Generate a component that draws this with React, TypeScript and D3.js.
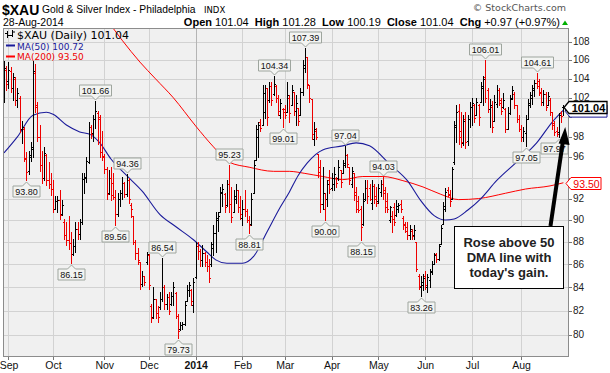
import React from "react";
import * as d3 from "d3";

// $XAU daily bars, 29-Aug-2013 .. 28-Aug-2014
const opens = [
  102.5, 105.0, 103.8, 104.8, 103.0, 104.0, 101.8, 102.0, 98.8, 98.8,
  95.8, 94.6, 96.0, 96.8, 104.6, 101.0, 98.0, 95.2, 94.0, 96.2,
  93.8, 93.4, 92.9, 91.0, 91.8, 91.9, 90.6, 89.8, 88.6, 88.2,
  87.9, 86.9, 87.6, 89.2, 88.7, 89.8, 93.9, 94.0, 95.5, 99.0,
  98.4, 99.8, 100.4, 99.8, 96.5, 96.0, 94.8, 92.5, 94.0, 93.5,
  92.1, 90.6, 92.0, 92.5, 93.5, 92.4, 93.8, 91.4, 90.4, 88.0,
  87.0, 86.2, 84.3, 85.0, 86.2, 86.8, 82.4, 81.5, 83.0, 81.8,
  82.3, 83.0, 84.0, 82.6, 83.2, 82.6, 83.3, 83.5, 81.6, 80.5,
  80.8, 80.9, 82.8, 83.8, 83.8, 82.5, 84.9, 87.6, 87.2, 86.4,
  87.0, 86.2, 85.9, 86.0, 87.5, 88.8, 90.0, 90.7, 92.5, 92.4,
  91.4, 93.4, 91.5, 90.7, 92.0, 92.8, 91.2, 90.2, 91.0, 90.8,
  90.0, 89.6, 92.5, 95.7, 98.0, 99.5, 99.2, 100.5, 103.0, 101.8,
  103.2, 102.4, 103.2, 102.0, 100.2, 100.8, 100.8, 100.5, 102.0, 101.2,
  102.6, 100.6, 100.9, 100.2, 102.6, 105.2, 106.3, 103.3, 101.9, 97.8,
  98.6, 96.3, 95.0, 91.5, 91.0, 92.0, 93.8, 93.0, 93.4, 94.0,
  94.0, 94.7, 94.4, 95.2, 96.2, 95.0, 93.4, 94.4, 92.6, 91.8,
  91.0, 89.6, 92.0, 93.0, 93.0, 91.6, 93.2, 92.2, 91.8, 92.6,
  93.4, 92.8, 91.8, 90.0, 90.4, 91.2, 90.5, 91.0, 91.5, 90.2,
  89.6, 89.4, 88.6, 89.0, 88.6, 88.0, 85.0, 84.0, 84.2, 85.0,
  84.0, 84.6, 85.4, 86.0, 86.9, 86.5, 87.8, 89.6, 91.0, 92.8,
  92.3, 92.0, 95.5, 99.0, 100.6, 98.6, 97.4, 99.8, 97.6, 99.8,
  101.0, 101.2, 100.2, 101.2, 101.6, 103.0, 104.2, 102.8, 100.8, 101.0,
  99.6, 101.4, 102.8, 101.8, 101.0, 100.8, 98.8, 100.4, 102.0, 102.4,
  101.2, 99.8, 98.8, 98.0, 98.4, 99.8, 101.2, 102.0, 102.8, 103.6,
  103.8, 102.6, 101.6, 102.4, 101.2, 101.8, 100.5, 99.4, 98.6, 98.5,
  100.4, 101.04,
];
const highs = [
  105.9, 105.4, 105.8, 105.3, 104.6, 104.2, 103.0, 102.2, 99.6, 99.0,
  96.5, 96.6, 97.5, 105.9, 105.6, 101.6, 99.2, 96.6, 97.0, 96.3,
  95.5, 94.4, 93.8, 92.2, 92.2, 92.8, 91.9, 90.1, 89.8, 90.4,
  88.9, 88.3, 89.8, 89.8, 90.1, 94.4, 94.4, 96.0, 99.5, 99.2,
  100.2, 101.66, 100.6, 100.2, 98.6, 96.3, 95.0, 94.7, 95.0, 94.4,
  92.8, 92.5, 92.8, 94.1, 93.6, 94.36, 94.0, 91.6, 90.4, 88.2,
  87.5, 86.2, 85.4, 85.0, 87.1, 86.9, 82.6, 84.0, 83.0, 82.4,
  83.6, 86.54, 84.2, 83.4, 83.6, 83.6, 84.5, 83.6, 81.7, 81.1,
  81.1, 82.8, 84.2, 84.5, 83.9, 84.8, 88.0, 88.0, 87.4, 87.7,
  87.1, 86.8, 86.5, 88.0, 89.5, 90.7, 90.7, 93.1, 93.4, 92.5,
  93.8, 95.23, 93.1, 92.8, 93.4, 92.8, 92.2, 91.9, 92.8, 91.0,
  90.4, 92.5, 95.7, 99.2, 99.5, 99.8, 103.3, 103.3, 103.0, 103.7,
  103.7, 104.34, 103.3, 102.3, 101.9, 100.9, 101.2, 103.7, 102.3, 103.3,
  102.6, 102.3, 100.9, 103.0, 106.0, 107.39, 106.3, 103.3, 101.9, 99.5,
  98.9, 96.3, 95.7, 95.0, 92.5, 93.8, 94.7, 94.4, 95.0, 94.1,
  95.7, 94.7, 95.7, 97.04, 96.3, 95.0, 95.0, 94.4, 93.1, 92.2,
  91.3, 92.5, 93.8, 93.8, 93.4, 93.8, 93.4, 93.1, 93.4, 93.8,
  94.03, 93.1, 92.5, 91.3, 90.8, 91.6, 91.9, 91.6, 91.9, 90.4,
  89.8, 89.8, 89.5, 89.2, 89.5, 88.0, 85.2, 85.0, 85.2, 85.4,
  85.2, 85.6, 86.3, 87.0, 87.0, 87.8, 89.5, 91.7, 93.0, 93.1,
  92.8, 95.0, 99.6, 101.2, 101.4, 100.5, 100.2, 100.5, 100.2, 101.6,
  102.0, 101.4, 102.0, 101.4, 103.7, 104.3, 106.01, 103.0, 101.9, 101.7,
  102.3, 103.3, 103.0, 102.0, 102.5, 100.9, 101.0, 102.3, 103.2, 102.6,
  101.2, 100.2, 99.2, 99.0, 100.2, 101.9, 102.6, 103.3, 103.9, 104.61,
  104.0, 103.0, 102.8, 102.6, 102.6, 102.0, 100.5, 99.6, 99.0, 100.4,
  100.6, 101.28,
];
const lows = [
  101.6, 102.8, 103.0, 102.6, 101.8, 101.3, 101.0, 98.5, 97.4, 95.6,
  93.8, 94.3, 95.6, 96.0, 100.5, 97.6, 94.6, 93.5, 93.8, 93.3,
  93.0, 92.3, 90.7, 91.0, 90.7, 90.1, 90.5, 88.3, 87.7, 87.4,
  86.15, 86.8, 87.1, 88.3, 88.3, 89.6, 92.5, 93.6, 95.4, 97.9,
  97.6, 98.9, 97.3, 96.0, 95.7, 94.4, 92.0, 92.4, 91.9, 92.0,
  89.56, 90.4, 91.3, 92.0, 92.1, 92.2, 91.6, 90.3, 87.8, 86.5,
  86.0, 83.9, 84.1, 84.2, 86.0, 83.9, 81.1, 81.4, 81.4, 81.1,
  82.2, 82.8, 82.2, 82.2, 81.7, 82.5, 82.5, 81.4, 79.73, 80.4,
  80.5, 80.8, 82.8, 83.3, 82.5, 81.9, 84.8, 86.5, 85.9, 85.9,
  85.9, 85.4, 84.5, 85.9, 86.8, 87.1, 89.0, 90.7, 91.3, 90.7,
  91.3, 90.7, 89.8, 90.7, 91.6, 90.7, 90.1, 89.5, 90.4, 89.8,
  88.81, 89.5, 92.5, 95.7, 96.0, 98.6, 99.2, 99.9, 99.2, 101.6,
  101.2, 102.3, 101.6, 100.2, 99.9, 99.01, 99.9, 100.5, 99.5, 101.2,
  100.2, 99.2, 99.2, 100.2, 102.3, 104.7, 103.0, 101.6, 97.8, 97.2,
  97.8, 94.1, 90.7, 91.0, 90.0, 91.3, 92.5, 92.8, 92.8, 93.1,
  93.8, 93.1, 94.4, 95.0, 95.0, 93.4, 93.1, 91.9, 90.7, 90.7,
  88.15, 89.5, 91.9, 91.6, 91.9, 91.0, 91.6, 91.3, 91.6, 92.2,
  92.0, 90.7, 90.7, 89.8, 88.9, 89.5, 90.4, 90.7, 90.7, 89.2,
  88.9, 88.3, 88.3, 88.3, 88.3, 85.4, 83.9, 83.26, 83.8, 83.9,
  83.6, 84.0, 85.2, 86.0, 86.2, 86.4, 87.8, 89.6, 90.8, 92.2,
  91.3, 92.0, 95.3, 97.5, 97.3, 97.0, 97.2, 96.9, 97.2, 99.0,
  99.2, 99.5, 100.2, 99.2, 101.6, 101.3, 101.6, 100.5, 99.0, 98.5,
  99.6, 101.0, 101.2, 100.3, 100.9, 98.5, 98.8, 100.3, 101.9, 100.9,
  99.5, 98.6, 97.6, 97.6, 97.05, 99.8, 101.0, 101.4, 102.2, 103.0,
  102.3, 101.3, 101.2, 100.7, 101.2, 100.2, 98.8, 98.2, 98.1, 97.97,
  99.5, 100.19,
];
const closes = [
  105.2, 103.5, 105.0, 103.0, 104.2, 101.8, 102.5, 98.8, 99.0, 95.9,
  94.5, 96.2, 97.0, 104.8, 101.2, 98.0, 95.2, 94.0, 96.4, 93.8,
  93.4, 92.9, 91.0, 91.8, 91.9, 90.5, 91.4, 88.6, 88.2, 87.9,
  86.9, 87.6, 89.2, 88.7, 89.8, 93.9, 94.1, 95.6, 99.0, 98.3,
  99.8, 100.6, 100.0, 96.5, 96.1, 94.8, 92.4, 94.0, 92.3, 92.1,
  90.6, 92.0, 92.5, 93.5, 92.4, 93.8, 92.0, 91.0, 88.0, 87.0,
  86.4, 84.3, 85.0, 84.5, 86.9, 84.2, 81.4, 83.0, 81.8, 81.5,
  83.0, 84.0, 82.6, 83.2, 82.0, 83.3, 84.0, 81.6, 80.3, 80.8,
  80.9, 82.5, 83.8, 84.2, 82.8, 84.5, 87.6, 87.2, 86.4, 87.0,
  86.2, 85.9, 84.8, 87.8, 88.8, 90.2, 90.4, 92.6, 92.9, 91.2,
  93.4, 91.5, 90.3, 92.2, 92.8, 91.2, 90.6, 91.0, 90.8, 90.0,
  89.5, 92.0, 95.2, 98.8, 99.2, 98.9, 102.5, 103.0, 100.0, 103.2,
  101.8, 103.5, 102.0, 100.6, 101.5, 100.5, 100.2, 102.3, 100.4, 102.8,
  100.6, 101.5, 99.6, 102.6, 105.5, 106.3, 103.4, 102.0, 98.3, 98.8,
  98.0, 94.5, 91.5, 92.5, 92.0, 93.4, 92.9, 94.0, 94.3, 93.5,
  95.0, 93.6, 95.4, 96.2, 95.3, 93.8, 94.6, 92.3, 91.0, 90.9,
  89.4, 91.8, 93.0, 92.2, 92.0, 93.2, 92.0, 91.6, 93.0, 93.4,
  92.5, 91.2, 91.0, 91.2, 90.1, 89.8, 91.3, 91.4, 91.0, 89.5,
  89.0, 88.6, 89.2, 88.5, 89.1, 85.6, 84.1, 84.5, 84.8, 84.2,
  84.9, 85.3, 86.0, 86.8, 86.5, 87.6, 89.3, 91.3, 92.6, 92.4,
  91.8, 94.8, 99.2, 100.5, 98.0, 97.5, 99.6, 97.5, 99.8, 101.0,
  101.5, 99.9, 101.6, 100.0, 103.2, 104.0, 102.0, 100.8, 101.2, 99.0,
  101.6, 102.8, 101.5, 100.6, 101.8, 98.8, 100.4, 101.9, 102.8, 101.2,
  99.8, 98.8, 98.0, 98.6, 99.8, 101.5, 102.3, 103.0, 103.6, 103.2,
  102.5, 101.6, 102.4, 101.0, 102.2, 100.5, 99.2, 98.5, 98.3, 100.2,
  100.07, 101.04,
];

// moving averages, sampled at bar index
const ma50At = [0, 6, 13, 19, 22, 28, 34, 39, 43, 48, 55, 62, 70, 77, 85, 91, 95, 100, 107, 112, 118, 124, 128, 132, 136, 143, 152, 158, 164, 173, 181, 187, 193, 198, 202, 208, 214, 221, 230, 239, 246, 251];
const ma50 = [96.4, 98.0, 100.2, 100.5, 100.3, 99.2, 98.5, 98.2, 97.4, 95.8, 94.2, 92.7, 90.5, 89.4, 88.2, 87.1, 86.4, 86.1, 86.1, 86.7, 88.9, 91.2, 92.6, 94.2, 95.4, 96.7, 97.1, 97.4, 97.1, 95.3, 93.7, 91.8, 90.4, 90.0, 90.1, 90.9, 92.0, 93.7, 95.5, 97.4, 99.5, 100.72];
const ma200At = [45, 53, 61, 68, 76, 86, 94, 101, 110, 121, 128, 135, 143, 152, 161, 170, 179, 188, 196, 204, 213, 225, 234, 245, 251];
const ma200 = [110.9, 108.2, 105.8, 104.0, 102.0, 99.1, 97.0, 95.5, 95.0, 94.6, 94.6, 94.4, 94.1, 93.8, 94.1, 94.1, 93.7, 93.1, 92.4, 91.9, 92.0, 92.5, 92.9, 93.2, 93.5];

const holidays = ["2013-09-02", "2013-11-28", "2013-12-25", "2014-01-01", "2014-01-20", "2014-02-17", "2014-04-18", "2014-05-26", "2014-07-04"];
const yTicks = [80, 82, 84, 86, 88, 90, 92, 94, 96, 98, 100, 102, 104, 106, 108];

// bars that carry a price callout
const peakIdx = [41, 55, 71, 101, 121, 135, 153, 170, 216, 239];
const troughIdx = [10, 30, 50, 78, 110, 125, 144, 160, 187, 234, 249];

const L = 3, R = 569, T = 28, B = 357;
const font = "'Liberation Sans', Arial, sans-serif";
const verdana = "'DejaVu Sans', Verdana, sans-serif";

function Callout({ cx, tip, text, above }) {
  const w = text.replace(".", "").length * 5 + 7;
  let bx = cx - w / 2;
  if (bx + w > R - 1) bx = R - 1 - w;
  const h = 11;
  const top = above ? tip - 4 - h : tip + 4;
  const bot = top + h;
  const d = above
    ? `M${bx},${top}H${bx + w}V${bot}H${cx + 4}L${cx},${tip}L${cx - 4},${bot}H${bx}Z`
    : `M${bx},${top}H${cx - 4}L${cx},${tip}L${cx + 4},${top}H${bx + w}V${bot}H${bx}Z`;
  return (
    <g>
      <path d={d} fill="#f3f4f2" stroke="#9ea59e" strokeWidth={1} />
      <text x={bx + w / 2} y={top + 8.5} textAnchor="middle" fontSize={9} fontFamily={font} fill="#111">
        {text}
      </text>
    </g>
  );
}

function PriceTag({ y, text, stroke, color, bold, x0, x1 }) {
  const d = `M${x0},${y}L${x0 + 5},${y - 6}H${x1}V${y + 6}H${x0 + 5}Z`;
  return (
    <g>
      <path d={d} fill="#fff" stroke={stroke} strokeWidth={bold ? 1.3 : 1} />
      {text ? (
        <text x={(x0 + 5 + x1) / 2 + 0.5} y={y + 4} textAnchor="middle" fontSize={bold ? 11 : 10.5}
          fontWeight={bold ? "bold" : "normal"} fontFamily={font} fill={color}>
          {text}
        </text>
      ) : null}
    </g>
  );
}

export default function App() {
  const hol = new Set(holidays);
  const fmt = d3.timeFormat("%Y-%m-%d");
  const dates = d3.timeDay
    .range(new Date(2013, 7, 29), new Date(2014, 7, 29))
    .filter((d) => d.getDay() % 6 !== 0 && !hol.has(fmt(d)));

  const x = d3.scaleLinear().domain([0, closes.length - 1]).range([4, 563.4]);
  const y = d3.scaleLog().domain([80, 108]).range([335, 42]);

  const months = dates
    .map((d, i) => ({ d, i }))
    .filter(({ d, i }) => i > 0 && d.getMonth() !== dates[i - 1].getMonth());

  const line = d3
    .line<[number, number]>()
    .x((d) => x(d[0]))
    .y((d) => y(d[1]))
    .curve(d3.curveMonotoneX);
  const ma50Path = line(ma50At.map((a, k) => [a, ma50[k]]));
  const ma200Path = line(ma200At.map((a, k) => [a, ma200[k]]));

  const last = closes.length - 1;
  const lastMa50 = ma50[ma50.length - 1];
  const lastMa200 = ma200[ma200.length - 1];
  // tick labels that sit under the right-hand price tags are hidden, as in the original
  const tagYs = [y(closes[last]), y(lastMa50), y(lastMa200)];
  const shownTicks = yTicks.filter((t) => tagYs.every((ty) => Math.abs(y(t) - ty) > 8));

  return (
    <svg width={610} height={373} style={{ position: "absolute", left: 0, top: 0, background: "#fff" }}>
      <defs>
        <clipPath id="plotclip">
          <rect x={L} y={T} width={R - L} height={B - T} />
        </clipPath>
      </defs>

      {/* header */}
      <text x={2} y={14.5} fontSize={14} fontWeight="bold" fontFamily={font}>$XAU</text>
      <text x={42} y={12.5} fontSize={10.3} fontFamily={font}>Gold &amp; Silver Index - Philadelphia</text>
      <text x={204} y={12.5} fontSize={8.5} fontFamily={verdana}>INDX</text>
      <text x={566} y={11} textAnchor="end" fontSize={9.5} fontFamily={verdana} fill="#555">© StockCharts.com</text>
      <text x={3} y={26} fontSize={10.5} fontFamily={font}>28-Aug-2014</text>
      <text x={560} y={26} textAnchor="end" fontSize={11} fontFamily={font} style={{ whiteSpace: "pre" }}>
        <tspan fontWeight="bold">Open</tspan>
        <tspan>{" 101.04  "}</tspan>
        <tspan fontWeight="bold">High</tspan>
        <tspan>{" 101.28  "}</tspan>
        <tspan fontWeight="bold">Low</tspan>
        <tspan>{" 100.19  "}</tspan>
        <tspan fontWeight="bold">Close</tspan>
        <tspan>{" 101.04  "}</tspan>
        <tspan fontWeight="bold">Chg</tspan>
        <tspan>{" +0.97 (+0.97%)"}</tspan>
      </text>
      <path d="M562,25L565,20.5L568,25Z" fill="#00b000" />

      {/* plot background and grid */}
      <rect x={L} y={T} width={R - L} height={B - T} fill="#f0f0f0" />
      {yTicks.map((t) => (
        <line key={t} x1={L} x2={R} y1={Math.round(y(t)) + 0.5} y2={Math.round(y(t)) + 0.5} stroke="#d2d2d2" />
      ))}
      {months.map(({ d, i }) => (
        <line key={i} x1={Math.round(x(i)) + 0.5} x2={Math.round(x(i)) + 0.5} y1={T} y2={B}
          stroke={d.getMonth() === 0 ? "#b4b4b4" : "#d2d2d2"} />
      ))}

      <g clipPath="url(#plotclip)">
        <path d={ma200Path} fill="none" stroke="#ff0000" strokeWidth={1} />
        <path d={ma50Path} fill="none" stroke="#1a1a9a" strokeWidth={1.1} />
        {closes.map((c, i) => {
          const up = i === 0 ? c >= opens[i] : c >= closes[i - 1];
          const col = up ? "#000" : "#ee0000";
          const px = Math.round(x(i));
          const yh = Math.round(y(highs[i]));
          const yl = Math.round(y(lows[i]));
          return (
            <g key={i} fill={col}>
              <rect x={px} y={yh} width={1} height={Math.max(1, yl - yh + 1)} />
              <rect x={px - 1} y={Math.round(y(opens[i]))} width={1} height={1} />
              <rect x={px + 1} y={Math.round(y(c))} width={1} height={1} />
            </g>
          );
        })}
      </g>

      {/* callouts */}
      {peakIdx.map((i) => (
        <Callout key={"p" + i} cx={Math.round(x(i)) + 0.5} tip={Math.round(y(highs[i])) - 1} text={highs[i].toFixed(2)} above />
      ))}
      {troughIdx.map((i) => (
        <Callout key={"t" + i} cx={Math.round(x(i)) + 0.5} tip={Math.round(y(lows[i])) + 2} text={lows[i].toFixed(2)} above={false} />
      ))}

      <rect x={L + 0.5} y={T + 0.5} width={R - L - 1} height={B - T - 1} fill="none" stroke="#8c8c8c" />

      {/* legend */}
      <g stroke="#000" strokeWidth={1}>
        <line x1={7.5} x2={7.5} y1={31} y2={38} />
        <line x1={5} x2={7.5} y1={33.5} y2={33.5} />
        <line x1={7.5} x2={10} y1={35.5} y2={35.5} />
        <line x1={12.5} x2={12.5} y1={30} y2={37} />
        <line x1={10} x2={12.5} y1={35.5} y2={35.5} />
        <line x1={12.5} x2={15} y1={32} y2={32} />
      </g>
      <text x={17} y={38.5} fontSize={11} fontFamily={verdana}>$XAU (Daily) 101.04</text>
      <line x1={6} x2={15} y1={45.5} y2={45.5} stroke="#1a1a9a" strokeWidth={2} />
      <text x={17} y={49.5} fontSize={9} fontFamily={verdana} fill="#1a1a9a">MA(50) 100.72</text>
      <line x1={6} x2={15} y1={56.5} y2={56.5} stroke="#ff0000" strokeWidth={2} />
      <text x={17} y={60} fontSize={9} fontFamily={verdana} fill="#ee0000">MA(200) 93.50</text>

      {/* right axis */}
      {yTicks.map((t) => (
        <line key={"yt" + t} x1={R} x2={R + 3} y1={Math.round(y(t)) + 0.5} y2={Math.round(y(t)) + 0.5} stroke="#777" />
      ))}
      {shownTicks.map((t) => (
        <text key={"yl" + t} x={573} y={y(t) + 3.2} fontSize={10} fontFamily={font} fill="#222">{t}</text>
      ))}
      <PriceTag y={y(lastMa50) + 1} text={null} stroke="#1a1a9a" color="#1a1a9a" x0={565} x1={607} />
      <PriceTag y={Math.round(y(closes[last])) + 0.5} text={closes[last].toFixed(2)} stroke="#000" color="#000" bold x0={564} x1={607} />
      <PriceTag y={Math.round(y(lastMa200)) + 0.5} text={lastMa200.toFixed(2)} stroke="#ff0000" color="#ee0000" x0={566} x1={601} />

      {/* bottom axis */}
      {months.map(({ d, i }) => (
        <g key={"xl" + i}>
          <line x1={Math.round(x(i)) + 0.5} x2={Math.round(x(i)) + 0.5} y1={B} y2={B + 3} stroke="#777" />
          <text x={x(i) + 0.5} y={369} textAnchor="middle" fontSize={10.5} fontFamily={font}
            fontWeight={d.getMonth() === 0 ? "bold" : "normal"} fill="#111">
            {d.getMonth() === 0 ? d3.timeFormat("%Y")(d) : d3.timeFormat("%b")(d)}
          </text>
        </g>
      ))}

      {/* annotation */}
      <line x1={550.5} y1={226} x2={562.8} y2={142} stroke="#000" strokeWidth={4} />
      <path d="M565.2,127L569.6,145L558.6,143.4Z" fill="#000" />
      <rect x={454.5} y={226.5} width={109} height={62} fill="#fff" stroke="#000" strokeWidth={1} />
      <g fontSize={13} fontWeight="bold" fontFamily={font} fill="#222" textAnchor="middle">
        <text x={509} y={247}>Rose above 50</text>
        <text x={509} y={262}>DMA line with</text>
        <text x={509} y={277}>today's gain.</text>
      </g>
    </svg>
  );
}
